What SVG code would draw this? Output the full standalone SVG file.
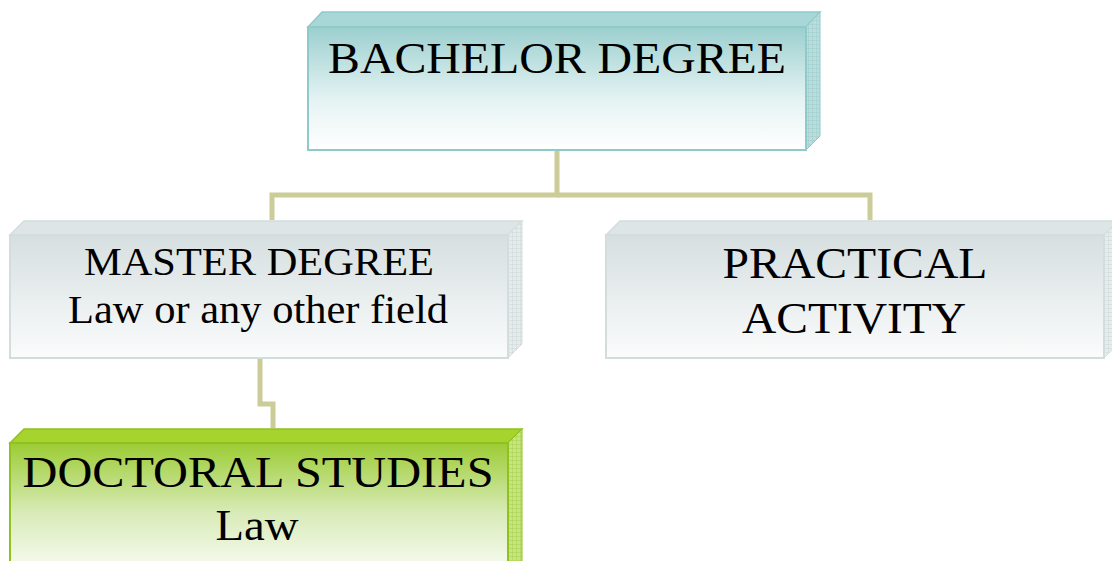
<svg xmlns="http://www.w3.org/2000/svg" width="1112" height="561" viewBox="0 0 1112 561">
<style>
text{font-family:"Liberation Serif","Times New Roman",serif;fill:#000;text-anchor:middle}
.conn{fill:none;stroke:#cccc99;stroke-width:5}
.bTop{fill:#a9d6d6;stroke:#8ecaca;stroke-width:1.5}
.bFront{fill:url(#gTeal);stroke:#8ecaca;stroke-width:2}
.bSide{fill:url(#pTeal);stroke:#8ecaca;stroke-width:1}
.gTop{fill:#dde5e6;stroke:#d3dddd;stroke-width:1.5}
.gFront{fill:url(#gGray);stroke:#d3dddd;stroke-width:2}
.gSide{fill:url(#pGray);stroke:#d3dddd;stroke-width:1}
.vTop{fill:#a6d32e;stroke:#8fc21c;stroke-width:1.5}
.vFront{fill:url(#gGreen);stroke:#8fc21c;stroke-width:2}
.vSide{fill:url(#pGreen);stroke:#8fc21c;stroke-width:1}
</style>
<defs>
<linearGradient id="gTeal" x1="0" y1="0" x2="0" y2="1">
<stop offset="0" stop-color="#9ccfcf"/><stop offset="0.6" stop-color="#e6f3f3"/><stop offset="1" stop-color="#ffffff"/>
</linearGradient>
<linearGradient id="gGray" x1="0" y1="0" x2="0" y2="1">
<stop offset="0" stop-color="#d6dfe0"/><stop offset="1" stop-color="#fbfcfc"/>
</linearGradient>
<linearGradient id="gGreen" x1="0" y1="0" x2="0" y2="1">
<stop offset="0" stop-color="#9ccc33"/><stop offset="0.5" stop-color="#d8ebb8"/><stop offset="1" stop-color="#ffffff"/>
</linearGradient>
<pattern id="pTeal" width="4" height="4" patternUnits="userSpaceOnUse">
<rect width="4" height="4" fill="#b8dede"/><path d="M0 0H4M0 0V4" stroke="#9fcaca" stroke-width="1"/>
</pattern>
<pattern id="pGray" width="4" height="4" patternUnits="userSpaceOnUse">
<rect width="4" height="4" fill="#e6ecec"/><path d="M0 0H4M0 0V4" stroke="#cdd7d7" stroke-width="1"/>
</pattern>
<pattern id="pGreen" width="4" height="4" patternUnits="userSpaceOnUse">
<rect width="4" height="4" fill="#c6e485"/><path d="M0 0H4M0 0V4" stroke="#a9d14a" stroke-width="1"/>
</pattern>
</defs>
<g id="connectors">
<path class="conn" d="M557 150V195H272V220"/>
<path class="conn" d="M557 195H870V220"/>
<path class="conn" d="M260 358V404H273V428"/>
</g>
<g id="bachelor">
<polygon class="bTop" points="308,27 322,12 820,12 806,27"/>
<polygon class="bSide" points="806,27 820,12 820,136 806,150"/>
<rect class="bFront" x="308" y="27" width="498" height="123"/>
<text x="557" y="73" font-size="45" textLength="458" lengthAdjust="spacingAndGlyphs">BACHELOR DEGREE</text>
</g>
<g id="master">
<polygon class="gTop" points="10,235 24,221 522,221 508,235"/>
<polygon class="gSide" points="508,235 522,221 522,344 508,358"/>
<rect class="gFront" x="10" y="235" width="498" height="123"/>
<text x="259" y="275" font-size="39" textLength="350" lengthAdjust="spacingAndGlyphs">MASTER DEGREE</text>
<text x="258" y="323" font-size="39" textLength="380" lengthAdjust="spacingAndGlyphs">Law or any other field</text>
</g>
<g id="practical">
<polygon class="gTop" points="606,235 620,221 1118,221 1104,235"/>
<polygon class="gSide" points="1104,235 1118,221 1118,344 1104,358"/>
<rect class="gFront" x="606" y="235" width="498" height="123"/>
<text x="855" y="278" font-size="45" textLength="265" lengthAdjust="spacingAndGlyphs">PRACTICAL</text>
<text x="854" y="333" font-size="45" textLength="224" lengthAdjust="spacingAndGlyphs">ACTIVITY</text>
</g>
<g id="doctoral">
<polygon class="vTop" points="10,443 24,429 522,429 508,443"/>
<polygon class="vSide" points="508,443 522,429 522,566 508,580"/>
<rect class="vFront" x="10" y="443" width="498" height="140"/>
<text x="258" y="487" font-size="45" textLength="471" lengthAdjust="spacingAndGlyphs">DOCTORAL STUDIES</text>
<text x="257" y="540" font-size="45" textLength="83" lengthAdjust="spacingAndGlyphs">Law</text>
</g>
</svg>
